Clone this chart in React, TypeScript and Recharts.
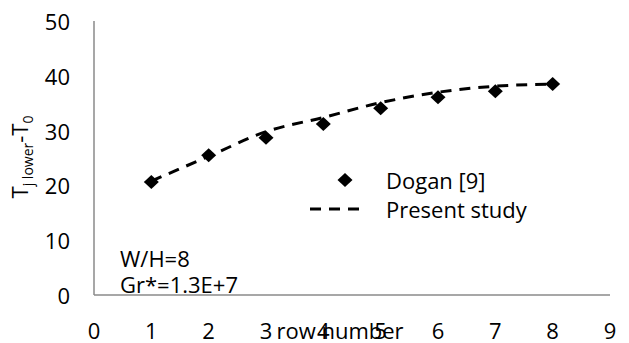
import React from 'react';
import { ComposedChart, Line, Scatter, XAxis, YAxis } from 'recharts';

const rowNumbers = [1, 2, 3, 4, 5, 6, 7, 8];
const doganValues = [20.6, 25.5, 28.7, 31.2, 34.1, 36.1, 37.2, 38.5];
const presentValues = [20.8, 25.3, 29.8, 32.4, 35.1, 37.0, 38.1, 38.5];
const xTicks = [0, 1, 2, 3, 4, 5, 6, 7, 8, 9];
const yTicks = [0, 10, 20, 30, 40, 50];

const data = rowNumbers.map((x, i) => ({ x, dogan: doganValues[i], present: presentValues[i] }));

const FONT = '"Open Sans", sans-serif';
const FS = 22;
const TEXT = '#000';
const AXIS = '#8a8a8a';

const Diamond = (props: any) => {
  const { cx, cy } = props;
  if (cx == null || cy == null) return null;
  const w = 7.5;
  const h = 7;
  return <polygon points={`${cx},${cy - h} ${cx + w},${cy} ${cx},${cy + h} ${cx - w},${cy}`} fill="#000" />;
};

const XTick = (props: any) => {
  const { x, y, payload } = props;
  return (
    <text x={x} y={y + 35} textAnchor="middle" dominantBaseline="central" fontFamily={FONT} fontSize={FS} fill={TEXT}>
      {payload.value}
    </text>
  );
};

const YTick = (props: any) => {
  const { x, y, payload } = props;
  return (
    <text x={x - 24} y={y} textAnchor="end" dominantBaseline="central" fontFamily={FONT} fontSize={FS} fill={TEXT}>
      {payload.value}
    </text>
  );
};

const YLabel = () => (
  <text
    x={28}
    y={157}
    transform="rotate(-90, 28, 157)"
    textAnchor="middle"
    fontFamily={FONT}
    fontSize={FS}
    fill={TEXT}
  >
    T
    <tspan dy={5} fontSize={14}>j lower</tspan>
    <tspan dy={-5} fontSize={FS}>-T</tspan>
    <tspan dy={5} fontSize={14}>0</tspan>
  </text>
);

const Overlay = () => (
  <svg width={629} height={343} style={{ position: 'absolute', left: 0, top: 0, pointerEvents: 'none' }}>
    <polygon points="345,173 352.5,180 345,187 337.5,180" fill="#000" />
    <text x={386} y={180} dominantBaseline="central" fontFamily={FONT} fontSize={FS} fill={TEXT}>
      Dogan [9]
    </text>
    <line x1={310} y1={209} x2={366} y2={209} stroke="#000" strokeWidth={3} strokeDasharray="11 8" />
    <text x={386} y={209} dominantBaseline="central" fontFamily={FONT} fontSize={FS} fill={TEXT}>
      Present study
    </text>
    <text x={120} y={258} dominantBaseline="central" fontFamily={FONT} fontSize={FS} fill={TEXT}>
      W/H=8
    </text>
    <text x={120} y={284} dominantBaseline="central" fontFamily={FONT} fontSize={FS} fill={TEXT}>
      Gr*=1.3E+7
    </text>
    <text x={340} y={330} textAnchor="middle" dominantBaseline="central" fontFamily={FONT} fontSize={FS} fill={TEXT}>
      row number
    </text>
  </svg>
);

export default function App() {
  return (
    <div style={{ position: 'absolute', left: 0, top: 0, width: 629, height: 343, background: '#fff' }}>
      <ComposedChart width={629} height={343} data={data} margin={{ top: 21, right: 19, bottom: 0, left: 0 }}>
        <XAxis
          dataKey="x"
          type="number"
          domain={[0, 9]}
          ticks={xTicks}
          interval={0}
          height={48}
          tickLine={false}
          tickSize={0}
          tickMargin={0}
          axisLine={{ stroke: AXIS, strokeWidth: 1.5 }}
          tick={<XTick />}
        />
        <YAxis
          type="number"
          domain={[0, 50]}
          ticks={yTicks}
          interval={0}
          width={94}
          tickLine={false}
          tickSize={0}
          tickMargin={0}
          axisLine={{ stroke: AXIS, strokeWidth: 1.5 }}
          tick={<YTick />}
          label={<YLabel />}
        />
        <Line
          dataKey="present"
          type="monotone"
          stroke="#000"
          strokeWidth={3}
          strokeDasharray="11 8"
          dot={false}
          activeDot={false}
          isAnimationActive={false}
        />
        <Scatter dataKey="dogan" shape={<Diamond />} isAnimationActive={false} />
      </ComposedChart>
      <Overlay />
    </div>
  );
}
